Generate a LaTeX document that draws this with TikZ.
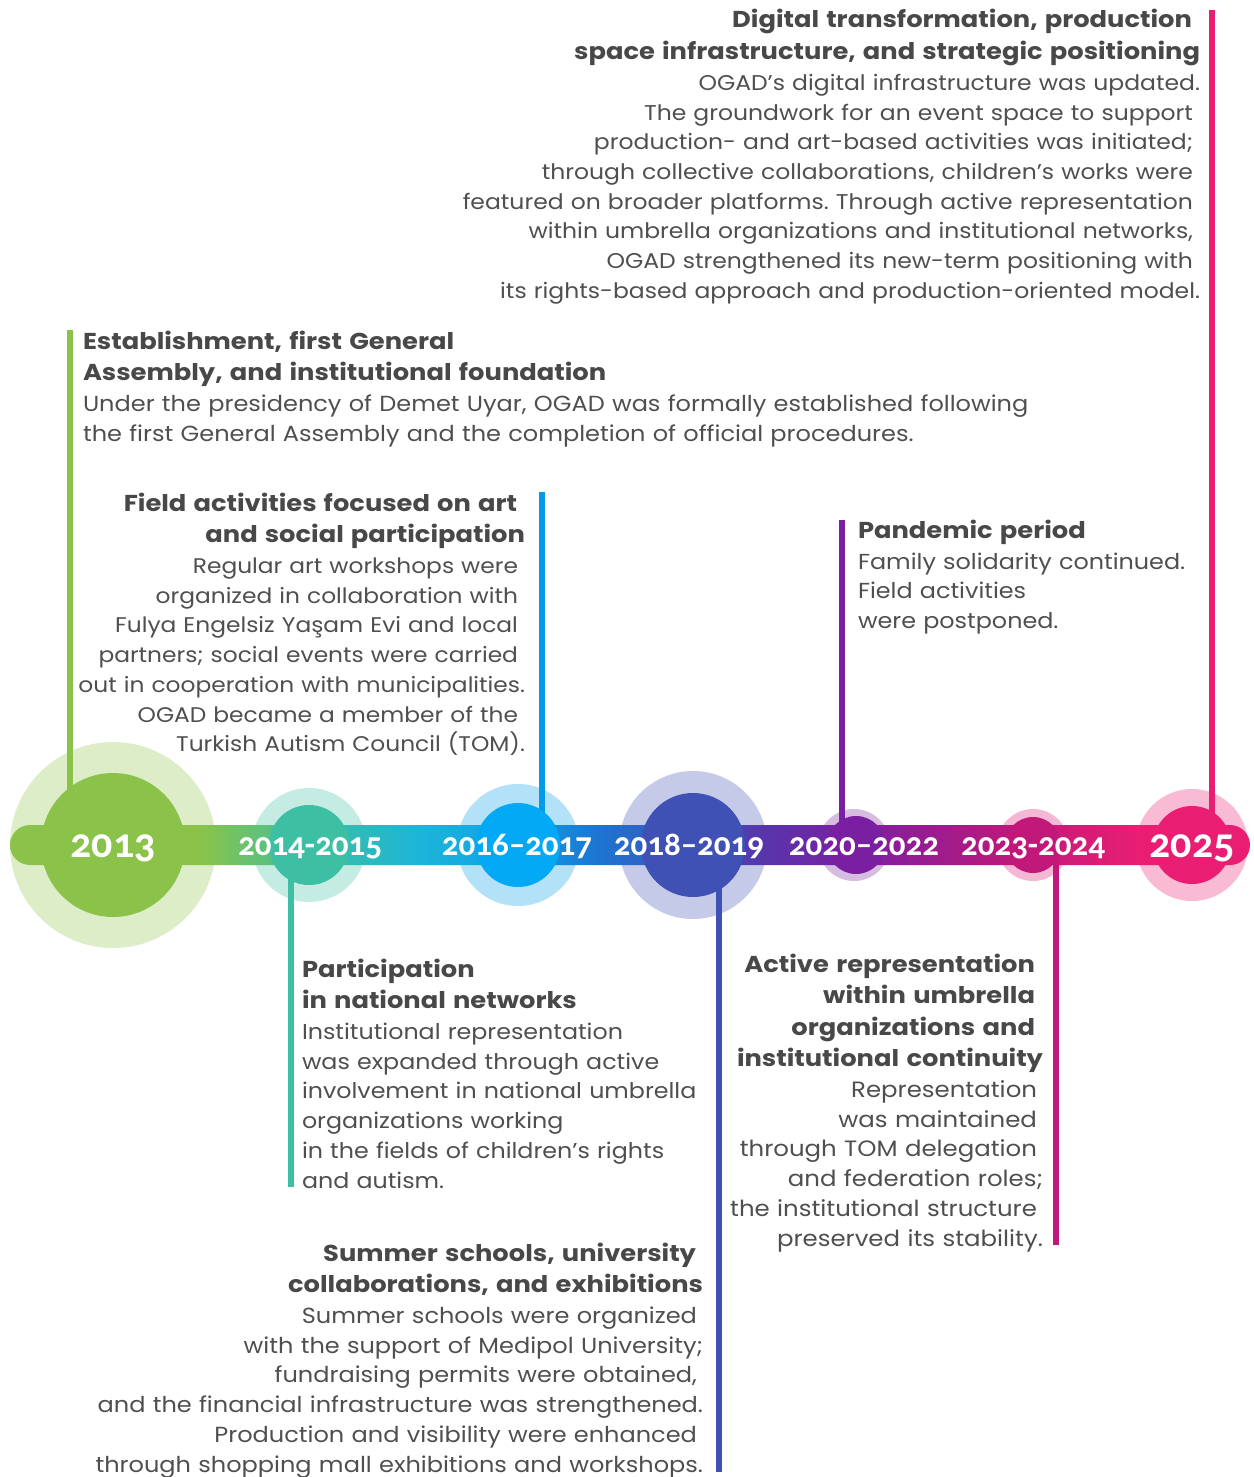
\documentclass[tikz,border=0pt]{standalone}
\usepackage{fontspec}
\setmainfont{Poppins}
\newfontfamily\bodyfam{Poppins}[FakeStretch=1.1]
\newfontfamily\headfam{Poppins}[FakeStretch=1.12]
\newfontfamily\yearfont{Carlito}[Numbers=OldStyle]
\usetikzlibrary{calc}
\definecolor{textgray}{HTML}{4F4F4F}
\definecolor{headgray}{HTML}{484848}
\definecolor{cA}{HTML}{8BC34A}\definecolor{cAl}{HTML}{DCEDC8}
\definecolor{cB}{HTML}{3DBFA3}\definecolor{cBl}{HTML}{C4ECE3}
\definecolor{cC}{HTML}{03A9F4}\definecolor{cCl}{HTML}{B3E2F8}
\definecolor{cCline}{HTML}{039BE5}
\definecolor{cD}{HTML}{3F51B5}\definecolor{cDl}{HTML}{C5CAE9}
\definecolor{cE}{HTML}{7B1FA2}\definecolor{cEl}{HTML}{D6BCE0}
\definecolor{cF}{HTML}{C2187A}\definecolor{cFl}{HTML}{F4B8D4}
\definecolor{cG}{HTML}{E91E72}\definecolor{cGl}{HTML}{F8BBD3}
\definecolor{s1}{HTML}{8BC34A}
\definecolor{s2}{HTML}{3DBFA0}
\definecolor{s3}{HTML}{1CB5D9}
\definecolor{s4}{HTML}{0EA0E8}
\definecolor{s5}{HTML}{1E74D0}
\definecolor{s6}{HTML}{5A33AA}
\definecolor{s7}{HTML}{7B1FA2}
\definecolor{s8}{HTML}{B8197E}
\definecolor{s9}{HTML}{E91E72}
\pgfdeclarehorizontalshading{barshade}{100bp}{color(0bp)=(s1); color(25bp)=(s1); color(32.66bp)=(s1); color(37.1bp)=(s2); color(41.53bp)=(s3); color(45.56bp)=(s4); color(48.79bp)=(s5); color(55.65bp)=(s6); color(59.03bp)=(s7); color(64.92bp)=(s8); color(70.56bp)=(s9); color(75bp)=(s9); color(100bp)=(s9)}
\pgfdeclarelayer{back}\pgfdeclarelayer{mid}
\pgfsetlayers{back,mid,main}
\newcommand\bsz[1]{\bodyfam\fontsize{#1}{29.7}\selectfont\frenchspacing}
\newcommand\hd{\color{headgray}\headfam\bfseries\fontsize{23}{31.5}\selectfont}
\newcommand\rk[1]{\kern#1pt}
\tikzset{
  txt/.style={inner sep=0pt, outer sep=0pt, text=textgray},
  lft/.style={txt, align=left, text width=#1, anchor=base west},
  rgt/.style={txt, align=right, text width=#1, anchor=base east},
  conn/.style={line width=5.5pt},
  dot/.style={circle, inner sep=0pt, outer sep=0pt, draw=none},
  year/.style={text=white, inner sep=0pt, anchor=base, font=\yearfont\bfseries\fontsize{33}{33}\selectfont},
  bigyear/.style={year, font=\yearfont\bfseries\fontsize{42}{42}\selectfont}
}
\begin{document}
\begin{tikzpicture}[x=1pt,y=-1pt]
\useasboundingbox (0,0) rectangle (1253,1477);
% inner circles
\node[dot, fill=cA, minimum size=144] (n13) at (113,845) {};
\node[dot, fill=cB, minimum size=80] (n14) at (309,845) {};
\node[dot, fill=cC, minimum size=84] (n16) at (518,845) {};
\node[dot, fill=cD, minimum size=104] (n18) at (693,845) {};
\node[dot, fill=cE, minimum size=58] (n20) at (856,845) {};
\node[dot, fill=cF, minimum size=56] (n23) at (1033,845) {};
\node[dot, fill=cG, minimum size=78] (n25) at (1192,845) {};
\begin{pgfonlayer}{back}
\node[dot, fill=cAl, minimum size=206] (o13) at (n13) {};
\node[dot, fill=cBl, minimum size=114] (o14) at (n14) {};
\node[dot, fill=cCl, minimum size=122] (o16) at (n16) {};
\node[dot, fill=cDl, minimum size=148] (o18) at (n18) {};
\node[dot, fill=cEl, minimum size=72] (o20) at (854,845) {};
\node[dot, fill=cFl, minimum size=72] (o23) at (n23) {};
\node[dot, fill=cGl, minimum size=112] (o25) at (n25) {};
\end{pgfonlayer}
% connector ends
\coordinate (t13) at (70,330);
\coordinate (t16) at (542,492);
\coordinate (t20) at (842,520);
\coordinate (t25) at (1212,10);
\coordinate (b14) at (291,1187);
\coordinate (b18) at (719,1472);
\coordinate (b23) at (1056,1245);
\begin{pgfonlayer}{mid}
\path[shading=barshade, rounded corners=20pt] (10,825) rectangle (1250,865);
\draw[conn, draw=cA] (t13) -- (t13 |- n13.center);
\draw[conn, draw=cCline] (t16) -- (t16 |- n16.center);
\draw[conn, draw=cE] (t20) -- (t20 |- n20.center);
\draw[conn, draw=cG] (t25) -- (t25 |- n25.center);
\draw[conn, draw=cB] (b14 |- n14.center) -- (b14);
\draw[conn, draw=cD] (b18 |- n18.center) -- (b18);
\draw[conn, draw=cF] (b23 |- n23.center) -- (b23);
\end{pgfonlayer}
% year labels
\node[bigyear] (l13) at (113,857) {2013};
\node[year] (l14) at (310,855) {2014-2015};
\node[year] (l16) at (517,855) {2016–2017};
\node[year] (l18) at (689,855) {2018–2019};
\node[year] (l20) at (864,855) {2020–2022};
\node[year] (l23) at (1033,855) {2023-2024};
\node[bigyear] (l25) at (1192,857) {2025};
% text blocks
\node[rgt=800pt, font=\bsz{21.35}] (x25) at (1200,28) {{\hd Digital transformation, production\rk{8}\\
space infrastructure, and strategic positioning\\[1.3pt]}
OGAD’s digital infrastructure was updated.\\
The groundwork for an event space to support\rk{7}\\
production- and art-based activities was initiated;\rk{7}\\
through collective collaborations, children’s works were\rk{7}\\
featured on broader platforms. Through active representation\rk{7}\\
within umbrella organizations and institutional networks,\rk{7}\\
OGAD strengthened its new-term positioning with\rk{7}\\
its rights-based approach and production-oriented model.};
\node[lft=1000pt, font=\bsz{21.85}] (x13) at (83,349) {{\hd Establishment, first General\\
Assembly, and institutional foundation\\[1.3pt]}
Under the presidency of Demet Uyar, OGAD was formally established following\\
the first General Assembly and the completion of official procedures.};
\node[rgt=500pt, font=\bsz{21.2}] (x16) at (525,511) {{\hd Field activities focused on art\rk{8}\\
and social participation\\[1.3pt]}
Regular art workshops were\rk{7}\\
organized in collaboration with\rk{7}\\
Fulya Engelsiz Yaşam Evi and local\rk{7}\\
partners; social events were carried\rk{7}\\
out in cooperation with municipalities.\\
OGAD became a member of the\rk{7}\\
Turkish Autism Council (TOM).};
\node[lft=400pt, font=\bsz{21.7}] (x20) at (858,538) {{\hd Pandemic period\\[1.3pt]}
Family solidarity continued.\\
Field activities\\
were postponed.};
\node[lft=420pt, font=\bsz{21.6}] (x14) at (302,977) {{\hd Participation\\
in national networks\\[1.3pt]}
Institutional representation\\
was expanded through active\\
involvement in national umbrella\\
organizations working\\
in the fields of children’s rights\\
and autism.};
\node[rgt=400pt, font=\bsz{22.2}] (x23) at (1043,972) {{\hd Active representation\rk{8}\\
within umbrella\rk{8}\\
organizations and\rk{8}\\
institutional continuity\\[1.3pt]}
Representation\rk{6}\\
was maintained\rk{6}\\
through TOM delegation\rk{6}\\
and federation roles;\\
the institutional structure\rk{6}\\
preserved its stability.};
\node[rgt=650pt, font=\bsz{21.85}] (x18) at (703,1261) {{\hd Summer schools, university\rk{7}\\
collaborations, and exhibitions\\[1.3pt]}
Summer schools were organized\rk{6}\\
with the support of Medipol University;\\
fundraising permits were obtained,\rk{6}\\
and the financial infrastructure was strengthened.\\
Production and visibility were enhanced\rk{6}\\
through shopping mall exhibitions and workshops.};
\end{tikzpicture}
\end{document}
